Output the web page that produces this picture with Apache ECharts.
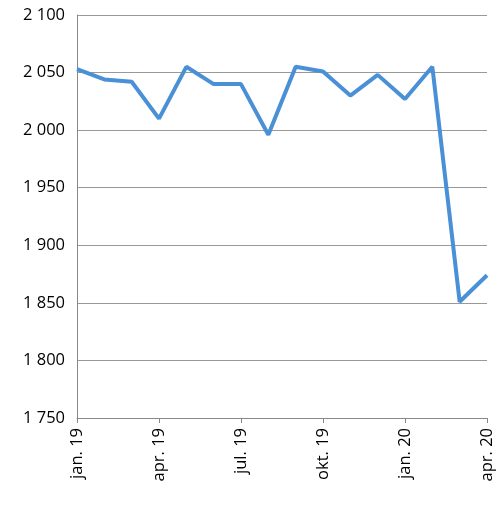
<!DOCTYPE html>
<html><head><meta charset="utf-8">
<script src="https://cdn.jsdelivr.net/npm/echarts@6/dist/echarts.min.js"></script>
<style>html,body{margin:0;padding:0;background:#fff}#c{width:500px;height:505px}</style>
</head><body><div id="c"></div>
<script>
const categories = ["jan. 19","feb. 19","mar. 19","apr. 19","mai 19","jun. 19","jul. 19","aug. 19","sep. 19","okt. 19","nov. 19","des. 19","jan. 20","feb. 20","mar. 20","apr. 20"];
const values = [2053,2044,2042,2010,2055,2040,2040,1996,2055,2051,2030,2048,2027,2055,1851,1874];
const chart = echarts.init(document.getElementById('c'));
chart.setOption({
  animation:false,
  grid:{left:77,right:13,top:15,bottom:87},
  xAxis:{type:'category',data:categories,boundaryGap:false,
    axisLine:{lineStyle:{color:'#888'}},
    axisTick:{interval:2,alignWithLabel:true,lineStyle:{color:'#888'},length:5},
    axisLabel:{interval:2,rotate:90,color:'#000',fontSize:16.5,fontFamily:'Open Sans',margin:10}},
  yAxis:{type:'value',min:1750,max:2100,interval:50,
    axisLine:{show:true,lineStyle:{color:'#888'}},axisTick:{show:false},
    splitLine:{lineStyle:{color:'#999'}},
    axisLabel:{color:'#000',fontSize:16.5,fontFamily:'Open Sans',margin:12,
      formatter:v=>String(v).replace(/\B(?=(\d{3})+(?!\d))/g,' ')}},
  series:[{type:'line',data:values,showSymbol:false,lineStyle:{color:'#4a90d6',width:4}}]
});
</script></body></html>
